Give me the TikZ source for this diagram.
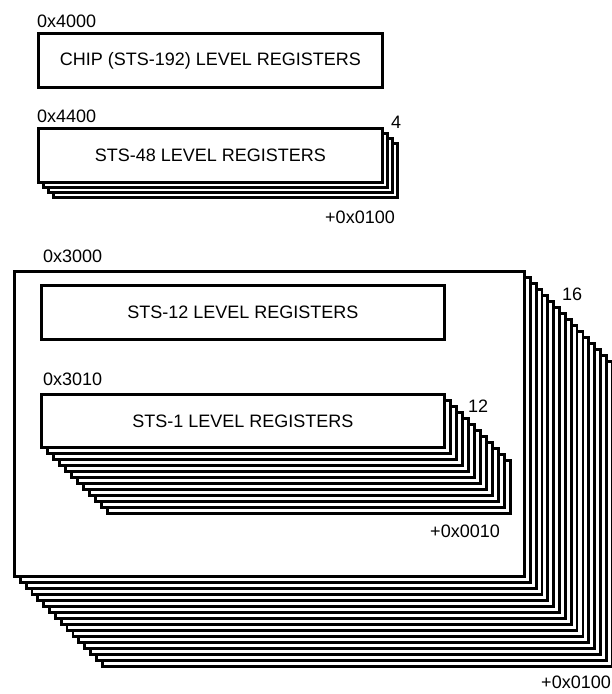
\documentclass[tikz,border=0pt]{standalone}
\usepackage{fontspec}
\setmainfont{Liberation Sans}
\begin{document}
\begin{tikzpicture}[x=1pt,y=-1pt]
\tikzset{
  regbox/.style={draw, line width=2.8pt, fill=white, inner sep=0pt, anchor=north west,
    font=\fontsize{18}{22}\selectfont},
  lbl/.style={inner sep=0pt, font=\fontsize{18}{22}\selectfont},
}
\useasboundingbox (0,0) rectangle (612,694);
% chip level
\node[lbl, anchor=base west] (a4000) at (37,27) {0x4000};
\node[regbox, minimum width=344, minimum height=54] (chip) at (37,32) {CHIP (STS-192) LEVEL REGISTERS};
% STS-48 stack
\node[lbl, anchor=base west] (a4400) at (37,122) {0x4400};
\foreach \k in {3,2,1}
  \node[regbox, minimum width=344, minimum height=54] (s48b\k) at ({37+5*\k},{127+5*\k}) {};
\node[regbox, minimum width=344, minimum height=54] (s48) at (37,127) {STS-48 LEVEL REGISTERS};
\node[lbl, anchor=base west] (n4) at (391,128) {4};
\node[lbl, anchor=base east] (inc48) at (395,223) {+0x0100};
% STS-12 stack
\node[lbl, anchor=base west] (a3000) at (43,262) {0x3000};
\foreach \k in {15,14,...,1}
  \node[regbox, minimum width=510, minimum height=305] (bigb\k) at ({13+5.85*\k},{270+6*\k}) {};
\node[regbox, minimum width=510, minimum height=305] (big) at (13,270) {};
\node[lbl, anchor=base west] (n16) at (562,300) {16};
\node[lbl, anchor=base east] (inc12) at (611,688) {+0x0100};
\node[regbox, minimum width=403, minimum height=54] (s12) at (40,284) {STS-12 LEVEL REGISTERS};
% STS-1 stack
\node[lbl, anchor=base west] (a3010) at (43,385) {0x3010};
\foreach \k in {11,10,...,1}
  \node[regbox, minimum width=403, minimum height=53] (s1b\k) at ({40+6*\k},{393+6*\k}) {};
\node[regbox, minimum width=403, minimum height=53] (s1) at (40,393) {STS-1 LEVEL REGISTERS};
\node[lbl, anchor=base west] (n12) at (468,412) {12};
\node[lbl, anchor=base east] (inc1) at (500,537) {+0x0010};
\end{tikzpicture}
\end{document}
